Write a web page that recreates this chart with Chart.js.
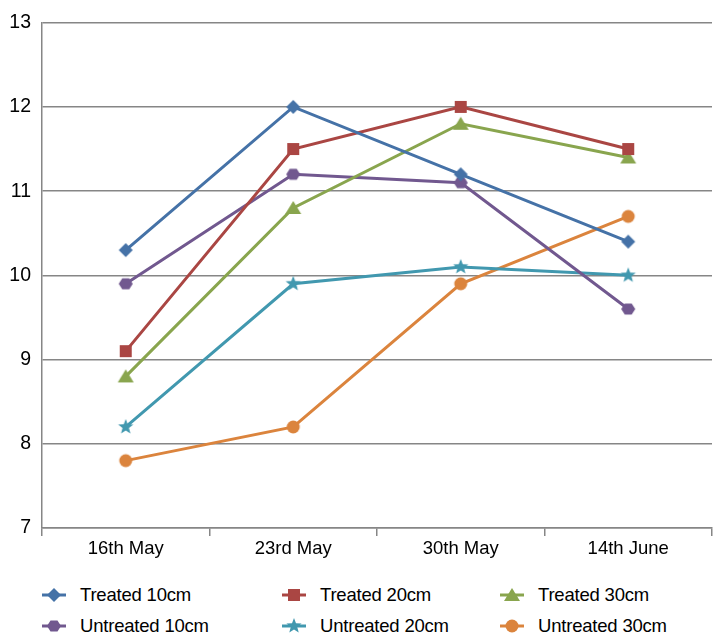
<!DOCTYPE html>
<html>
<head>
<meta charset="utf-8">
<script src="https://cdn.jsdelivr.net/npm/chart.js@4.4.1/dist/chart.umd.min.js"></script>
<style>
  html, body { margin: 0; padding: 0; background: #ffffff; }
  body { width: 716px; height: 636px; position: relative; overflow: hidden;
         font-family: "Liberation Sans", Arial, sans-serif; }
  #chartBox { position: absolute; left: 0; top: 0; width: 716px; height: 562px; }
  #legend { position: absolute; left: 0; top: 580px; width: 716px; height: 56px; }
  .item { position: absolute; display: flex; align-items: center; height: 30px;
          font-size: 18.5px; color: #000; letter-spacing: -0.2px; }
  .item canvas { margin-right: 14px; }
</style>
</head>
<body>
<div id="chartBox"><canvas id="chart" width="716" height="562"></canvas></div>
<div id="legend"></div>
<script>
// Sampling dates
const dates = ["16th May", "23rd May", "30th May", "14th June"];

// Measurements per plot
const treated10   = [10.3, 12.0, 11.2, 10.4];
const treated20   = [9.1, 11.5, 12.0, 11.5];
const treated30   = [8.8, 10.8, 11.8, 11.4];
const untreated10 = [9.9, 11.2, 11.1, 9.6];
const untreated20 = [8.2, 9.9, 10.1, 10.0];
const untreated30 = [7.8, 8.2, 9.9, 10.7];

const yTicks = [7, 8, 9, 10, 11, 12, 13];

const FONT = '"Liberation Sans", Arial, sans-serif';

// Marker shapes drawn onto small canvases
function shapePath(ctx, shape, cx, cy) {
  ctx.beginPath();
  if (shape === 'diamond') {
    const r = 7;
    ctx.moveTo(cx, cy - r); ctx.lineTo(cx + r, cy); ctx.lineTo(cx, cy + r); ctx.lineTo(cx - r, cy);
  } else if (shape === 'square') {
    const r = 6;
    ctx.rect(cx - r, cy - r, 2 * r, 2 * r);
  } else if (shape === 'triangle') {
    const r = 8;
    ctx.moveTo(cx, cy - r + 1); ctx.lineTo(cx + r, cy + r - 2); ctx.lineTo(cx - r, cy + r - 2);
  } else if (shape === 'hexagon') {
    const r = 7;
    for (let i = 0; i < 6; i++) {
      const a = Math.PI / 3 * i;
      const x = cx + r * Math.cos(a), y = cy + r * Math.sin(a) * 0.92;
      if (i === 0) ctx.moveTo(x, y); else ctx.lineTo(x, y);
    }
  } else if (shape === 'star') {
    const R = 8, r = 3.4;
    for (let i = 0; i < 10; i++) {
      const a = -Math.PI / 2 + Math.PI / 5 * i;
      const rad = i % 2 === 0 ? R : r;
      const x = cx + rad * Math.cos(a), y = cy + rad * Math.sin(a);
      if (i === 0) ctx.moveTo(x, y); else ctx.lineTo(x, y);
    }
  } else {
    ctx.arc(cx, cy, 6.5, 0, Math.PI * 2);
  }
  ctx.closePath();
}

function markerImage(shape, color) {
  const c = document.createElement('canvas');
  c.width = 18; c.height = 18;
  const ctx = c.getContext('2d');
  ctx.fillStyle = color;
  shapePath(ctx, shape, 9, 9);
  ctx.fill();
  return c;
}

const seriesDefs = [
  { label: "Treated 10cm",   data: treated10,   color: "#4572a7", shape: "diamond" },
  { label: "Treated 20cm",   data: treated20,   color: "#aa4643", shape: "square" },
  { label: "Treated 30cm",   data: treated30,   color: "#89a54e", shape: "triangle" },
  { label: "Untreated 10cm", data: untreated10, color: "#71588f", shape: "hexagon" },
  { label: "Untreated 20cm", data: untreated20, color: "#4198af", shape: "star" },
  { label: "Untreated 30cm", data: untreated30, color: "#db843d", shape: "circle" }
];

const datasets = seriesDefs.map(s => ({
  label: s.label,
  data: s.data,
  borderColor: s.color,
  backgroundColor: s.color,
  borderWidth: 3,
  tension: 0,
  pointStyle: markerImage(s.shape, s.color),
  pointRadius: 8,
  pointHoverRadius: 8
}));

new Chart(document.getElementById('chart'), {
  type: 'line',
  data: { labels: dates, datasets: datasets },
  options: {
    responsive: false,
    animation: false,
    events: [],
    layout: { autoPadding: false, padding: { top: 22, right: 4, left: 0, bottom: 0 } },
    plugins: { legend: { display: false }, tooltip: { enabled: false } },
    scales: {
      x: {
        offset: true,
        grid: { display: true, drawOnChartArea: false, drawTicks: true, tickLength: 8,
                offset: true, color: '#868686', lineWidth: 1.5 },
        border: { display: true, color: '#868686', width: 1.5 },
        ticks: { color: '#000', font: { family: FONT, size: 18.5 }, padding: 2 },
        afterFit: axis => { axis.height = 34; }
      },
      y: {
        min: 7, max: 13,
        afterBuildTicks: axis => { axis.ticks = yTicks.map(v => ({ value: v })); },
        grid: { color: '#868686', lineWidth: 1.5, drawTicks: false },
        border: { display: true, color: '#868686', width: 1.5 },
        ticks: { color: '#000', font: { family: FONT, size: 19.5 }, padding: 11 },
        afterFit: axis => { axis.width = 42; }
      }
    }
  }
});

// Legend with line-through-marker icons
const legend = document.getElementById('legend');
const colX = [42, 282, 500];
seriesDefs.forEach((s, i) => {
  const item = document.createElement('div');
  item.className = 'item';
  item.style.left = colX[i % 3] + 'px';
  item.style.top = (i < 3 ? 0 : 31) + 'px';
  const c = document.createElement('canvas');
  c.width = 24; c.height = 18;
  const ctx = c.getContext('2d');
  ctx.strokeStyle = s.color; ctx.lineWidth = 3;
  ctx.beginPath(); ctx.moveTo(0, 9); ctx.lineTo(24, 9); ctx.stroke();
  ctx.fillStyle = s.color;
  shapePath(ctx, s.shape, 12, 9);
  ctx.fill();
  item.appendChild(c);
  const span = document.createElement('span');
  span.textContent = s.label;
  item.appendChild(span);
  legend.appendChild(item);
});
</script>
</body>
</html>
